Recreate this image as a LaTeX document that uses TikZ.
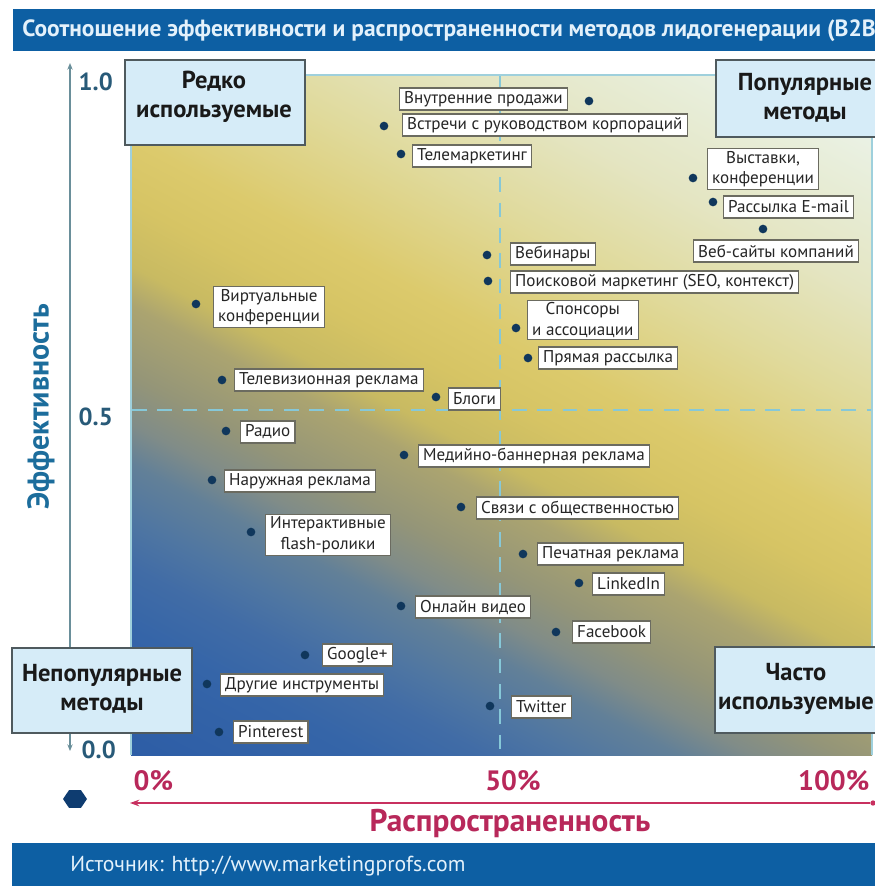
\documentclass[tikz,border=0pt]{standalone}
\usepackage{fontspec}
\setmainfont{PT Sans}
\usetikzlibrary{shapes.geometric,arrows.meta}
\definecolor{barblue}{HTML}{0D5FA3}
\definecolor{titletxt}{HTML}{E3F1FB}
\definecolor{dotblue}{HTML}{10375C}
\definecolor{quadfill}{HTML}{D6ECF8}
\definecolor{quadline}{HTML}{4F5A5E}
\definecolor{lblline}{HTML}{6B6B60}
\definecolor{axisgray}{HTML}{6A8F9A}
\definecolor{numblue}{HTML}{285A78}
\definecolor{efftxt}{HTML}{1C6D9C}
\definecolor{redaxis}{HTML}{C8305F}
\definecolor{redtxt}{HTML}{B8285A}
\definecolor{dashcyan}{HTML}{86C8D8}
\definecolor{plotedge}{HTML}{9FD0DC}
\definecolor{hexblue}{HTML}{0E3C70}
\definecolor{bgA}{HTML}{2D5DA6}
\definecolor{bgB}{HTML}{3565A8}
\definecolor{bgC}{HTML}{416CA6}
\definecolor{bgD}{HTML}{4F76A2}
\definecolor{bgE}{HTML}{628098}
\definecolor{bgF}{HTML}{808C88}
\definecolor{bgG}{HTML}{949578}
\definecolor{bgH}{HTML}{ABA470}
\definecolor{bgI}{HTML}{C8BA62}
\definecolor{bgJ}{HTML}{D6C464}
\definecolor{bgK}{HTML}{DCCA6C}
\definecolor{bgL}{HTML}{E0DA9C}
\definecolor{bgM}{HTML}{E4E5C2}
\definecolor{bgN}{HTML}{E8EEDA}
\definecolor{bgO}{HTML}{EEF6F4}
\pgfdeclarehorizontalshading{plotbg}{100bp}{color(0bp)=(bgA); color(16bp)=(bgA); color(24bp)=(bgB); color(28bp)=(bgC); color(31bp)=(bgD); color(34.5bp)=(bgE); color(37bp)=(bgF); color(40bp)=(bgG); color(44.5bp)=(bgH); color(47bp)=(bgI); color(51bp)=(bgJ); color(55bp)=(bgK); color(63bp)=(bgL); color(70bp)=(bgM); color(77bp)=(bgN); color(84bp)=(bgO); color(100bp)=(bgO)}
\tikzset{
  lbl/.style={draw=lblline, line width=0.8pt, fill=white, font=\fontsize{12.8}{14}\selectfont, inner xsep=3.5pt, inner ysep=1.6pt, minimum height=16.5pt, text=black!85, anchor=west},
  lbltwo/.style={lbl, align=center, font=\fontsize{12.8}{15.5}\selectfont},
  dotpt/.style={circle, fill=dotblue, inner sep=0pt, minimum size=6.5pt},
  quadbox/.style={draw=quadline, line width=1pt, fill=quadfill},
  quadtxt/.style={font=\fontsize{18.4}{21.5}\selectfont\bfseries, align=center, text=black!90},
  axnum/.style={font=\fontsize{18.5}{20}\selectfont\bfseries, text=numblue},
  pctnum/.style={font=\fontsize{21}{23}\selectfont\bfseries, text=redtxt},
  dashln/.style={dashcyan, line width=1.8pt, dash pattern=on 11pt off 8pt}
}
\newcommand{\meth}[7]{\node[dotpt] (d#1) at (#2,#3) {};\node[#7] (l#1) at (#4,#5) {#6};}
\begin{document}
\begin{tikzpicture}[x=0.75pt, y=-0.75pt]
\clip (0,0) rectangle (875,886);
\fill[white] (0,0) rectangle (875,886);
% title bar
\fill[barblue] (13,9) rectangle (880,51);
\node[anchor=west, inner sep=0pt, text=titletxt, font=\fontsize{17.6}{19}\selectfont\bfseries] (title) at (22,31) {Соотношение эффективности и распространенности методов лидогенерации (B2B};
% plot area
\fill[shading=plotbg, shading angle=62] (131,75) rectangle (872,755);
\draw[plotedge, line width=1.4pt] (131,755) -- (131,75) -- (872,75) -- (872,755);
\draw[dashln] (500,76) -- (500,754);
\draw[dashln] (132,410) -- (871,410);
% vertical axis
\coordinate (vtop) at (70,63);
\coordinate (vbot) at (70,751);
\draw[axisgray, line width=1pt, {Stealth[length=5pt,width=4pt]}-{Stealth[length=5pt,width=4pt]}] (vtop) -- (vbot);
\node[axnum, anchor=west] (n10) at (74,82) {1.0};
\node[axnum, anchor=west] (n05) at (74,417) {0.5};
\node[axnum, anchor=west] (n00) at (77,750) {0.0};
\node[rotate=90, font=\fontsize{22.5}{25}\selectfont\bfseries, text=efftxt] (eff) at (41,407) {Эффективность};
% horizontal axis
\node[circle, fill=redaxis, inner sep=0pt, minimum size=4pt] (hend) at (873,803) {};
\coordinate (hstart) at (130,803);
\draw[redaxis, line width=1.1pt, -{Stealth[length=7pt,width=5pt]}] (hend) -- (hstart);
\node[pctnum, anchor=west] (p0) at (129,781) {0\%};
\node[pctnum] (p50) at (513,781) {50\%};
\node[pctnum, anchor=east] (p100) at (874,781) {100\%};
\node[font=\fontsize{23.5}{26}\selectfont\bfseries, text=redtxt] (dist) at (510,823) {Распространенность};
\node[regular polygon, regular polygon sides=6, fill=hexblue, inner sep=0pt, minimum size=18pt, yscale=0.85] (hex) at (75,799) {};
% footer
\fill[barblue] (12,843) rectangle (880,890);
\node[anchor=west, inner sep=0pt, text=titletxt, font=\fontsize{16.3}{18}\selectfont] (src) at (70,866) {Источник: http://www.marketingprofs.com};
% quadrant boxes
\draw[quadbox] (125,60) rectangle (305,145);
\node[quadtxt] (q1) at (214,97) {Редко\\используемые};
\draw[quadbox] (716,60) rectangle (900,137);
\node[quadtxt] (q2) at (805,98) {Популярные\\методы};
\draw[quadbox] (12,648) rectangle (192,733);
\node[quadtxt] (q3) at (102,689) {Непопулярные\\методы};
\draw[quadbox] (715,647) rectangle (900,733);
\node[quadtxt] (q4) at (796,689) {Часто\\используемые};
% methods
\meth{vp}{589}{101}{399}{99}{Внутренние продажи}{lbl}
\meth{vs}{384}{126}{402}{125}{Встречи с руководством корпораций}{lbl}
\meth{tm}{401}{154}{412}{156}{Телемаркетинг}{lbl}
\meth{vk}{693}{178}{707}{169}{Выставки,\\конференции}{lbltwo}
\meth{re}{713}{202}{723}{207}{Рассылка E-mail}{lbl}
\meth{ws}{763}{229}{693}{251}{Веб-сайты компаний}{lbl}
\meth{wb}{487}{255}{510}{254}{Вебинары}{lbl}
\meth{seo}{488}{281}{510}{282}{Поисковой маркетинг (SEO, контекст)}{lbl}
\meth{sp}{516}{328}{527}{320}{Спонсоры\\и ассоциации}{lbltwo}
\meth{pr}{528}{358}{538}{358}{Прямая рассылка}{lbl}
\meth{vc}{196}{304}{213}{307}{Виртуальные\\конференции}{lbltwo}
\meth{tv}{222}{380}{234}{380}{Телевизионная реклама}{lbl}
\meth{bl}{436}{397}{448}{399}{Блоги}{lbl}
\meth{ra}{226}{431}{240}{432}{Радио}{lbl}
\meth{mb}{404}{455}{418}{456}{Медийно-баннерная реклама}{lbl}
\meth{nr}{212}{480}{224}{481}{Наружная реклама}{lbl}
\meth{so}{461}{507}{476}{508}{Связи с общественностью}{lbl}
\meth{fl}{251}{532}{265}{535}{Интерактивные\\flash-ролики}{lbltwo}
\meth{pe}{523}{554}{537}{554}{Печатная реклама}{lbl}
\meth{li}{579}{583}{592}{584}{LinkedIn}{lbl}
\meth{ov}{401}{606}{415}{607}{Онлайн видео}{lbl}
\meth{fb}{556}{632}{572}{632}{Facebook}{lbl}
\meth{gp}{305}{655}{322}{655}{Google+}{lbl}
\meth{dr}{207}{684}{220}{685}{Другие инструменты}{lbl}
\meth{pi}{219}{732}{233}{732}{Pinterest}{lbl}
\meth{tw}{490}{706}{511}{707}{Twitter}{lbl}
\end{tikzpicture}
\end{document}
